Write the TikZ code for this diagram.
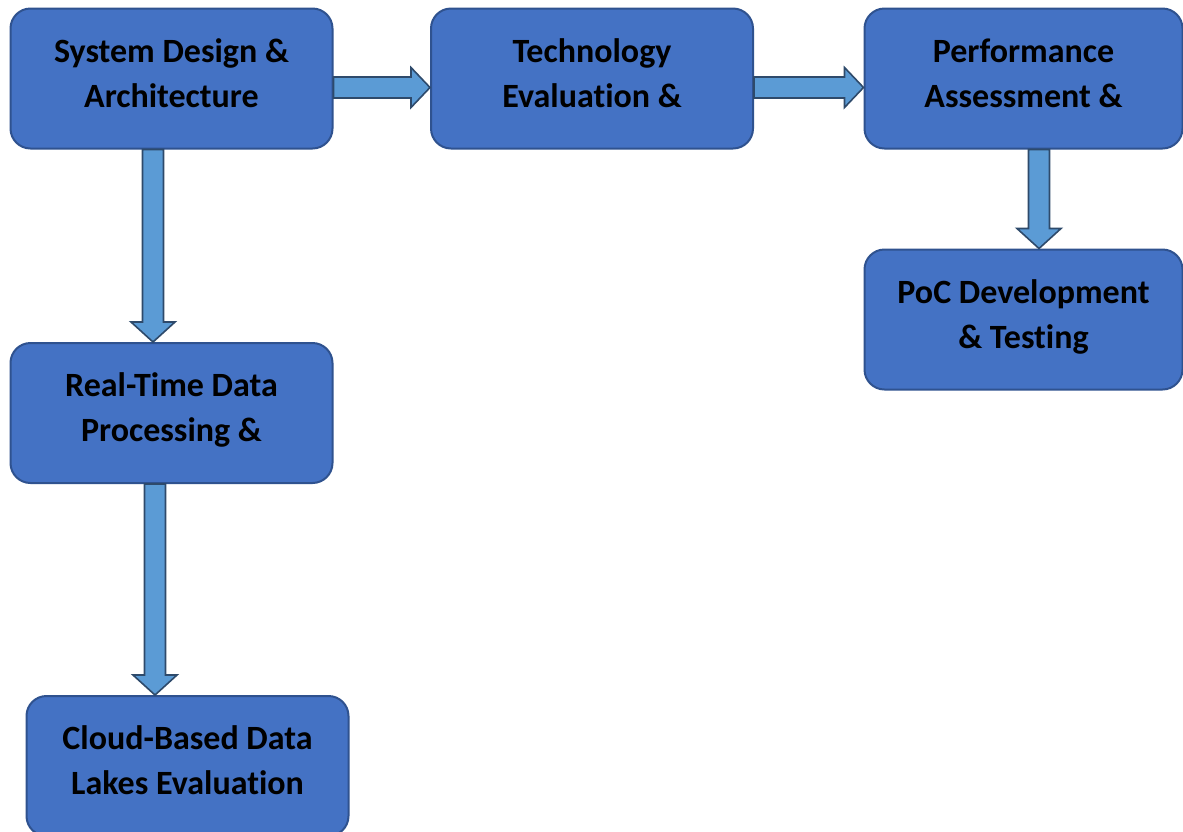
\documentclass[tikz,border=0pt]{standalone}
\usepackage{fontspec}
\setmainfont[Ligatures=NoCommon]{Carlito}
\usetikzlibrary{calc}

\definecolor{boxfill}{HTML}{4472C4}
\definecolor{boxline}{HTML}{2F528F}
\definecolor{arrowfill}{HTML}{5B9BD5}
\definecolor{arrowline}{HTML}{2E4A6B}

\tikzset{
  stagebox/.style={draw=boxline, line width=2pt, fill=boxfill, rounded corners=20pt,
    minimum width=322pt, minimum height=140pt, align=center, inner sep=0pt,
    text height=60pt, text depth=3pt,
    font=\bfseries\fontsize{34}{45}\selectfont, text=black},
  barrow/.style={draw=arrowline, line width=1.6pt, fill=arrowfill, line join=miter},
}

% block arrow pointing right: shaft along the y of the start point
\newcommand\rightblock[2]{%
  \draw[barrow] let \p1=(#1), \p2=(#2) in
    (\x1,\y1+10.5pt) -- (\x2-19pt,\y1+10.5pt) -- (\x2-19pt,\y1+20pt) -- (\x2,\y1)
    -- (\x2-19pt,\y1-20pt) -- (\x2-19pt,\y1-10.5pt) -- (\x1,\y1-10.5pt) -- cycle;}
% block arrow pointing down: shaft along the x of the start point
\newcommand\downblock[2]{%
  \draw[barrow] let \p1=(#1), \p2=(#2) in
    (\x1-10.5pt,\y1) -- (\x1-10.5pt,\y2+20pt) -- (\x1-22pt,\y2+20pt) -- (\x1,\y2)
    -- (\x1+22pt,\y2+20pt) -- (\x1+10.5pt,\y2+20pt) -- (\x1+10.5pt,\y1) -- cycle;}

\begin{document}
\begin{tikzpicture}[x=1pt,y=-1pt]
\useasboundingbox (0,0) rectangle (1183,831);
\fill[white] (0,0) rectangle (1183,831);

\node[stagebox] (sys)  at (171.5,78.5)  {System Design \&\\Architecture};
\node[stagebox] (tech) at (592,78.5)    {Technology\\Evaluation \&};
\node[stagebox, minimum width=318pt] (perf) at (1023.5,78.5)  {Performance\\Assessment \&};
\node[stagebox, minimum width=318pt] (poc)  at (1023.5,319.5) {PoC Development\\\& Testing};
\node[stagebox] (rt)   at (171.5,413)   {Real-Time Data\\Processing \&};
\node[stagebox] (lake) at (187.5,766)   {Cloud-Based Data\\Lakes Evaluation};

\rightblock{$(sys.east)+(0,9)$}{$(tech.west)+(0,9)$}
\rightblock{$(tech.east)+(0,9)$}{$(perf.west)+(0,9)$}
\downblock{$(sys.south)+(-18.5,0)$}{rt.north}
\downblock{$(rt.south)+(-16.5,0)$}{lake.north}
\downblock{$(perf.south)+(15.5,0)$}{poc.north}
\end{tikzpicture}
\end{document}
